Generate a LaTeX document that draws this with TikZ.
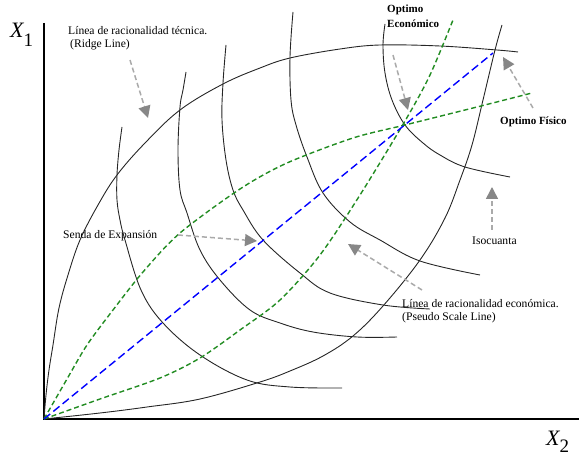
\documentclass[tikz,border=0pt]{standalone}
\usepackage{fontspec}
\setmainfont{Liberation Serif}
\usetikzlibrary{arrows.meta}
\definecolor{ggreen}{RGB}{34,140,34}
\definecolor{arrline}{RGB}{170,170,170}
\definecolor{arrhead}{RGB}{135,135,135}
\begin{document}
\begin{tikzpicture}[x=1pt,y=-1pt,
  curve/.style={line width=0.9pt, black!85},
  axis/.style={line width=2.4pt, black},
  gdash/.style={line width=1.4pt, ggreen, dash pattern=on 5pt off 3pt},
  bdash/.style={line width=1.4pt, blue, dash pattern=on 8pt off 4pt},
  garrow/.style={line width=1.5pt, arrline, dash pattern=on 5pt off 3pt,
    -{Triangle[length=12pt,width=12pt,color=arrhead]}},
  lbl/.style={font=\fontsize{11.6}{13}\selectfont, inner sep=0pt, align=left},
  blbl/.style={font=\fontsize{11}{15}\selectfont\bfseries, inner sep=0pt, align=left}
]
\useasboundingbox (0,0) rectangle (579,457);
% axes
\coordinate (O) at (44,419);
\coordinate (Ytop) at (44,23);
\coordinate (Xend) at (579,419);
\draw[axis] (Ytop) -- (O) -- (Xend);
\node[inner sep=0pt, anchor=base west] (X1) at (10,38)
  {{\fontsize{22}{22}\selectfont\itshape X}\raisebox{-9pt}{\fontsize{19}{19}\selectfont 1}};
\node[inner sep=0pt, anchor=base west] (X2) at (546,445)
  {{\fontsize{22}{22}\selectfont\itshape X}\raisebox{-8pt}{\fontsize{19}{19}\selectfont 2}};
% ridge lines
\draw[curve] plot[smooth, tension=0.6] coordinates {(44,419) (46,395) (49,370) (53,345) (59,308) (68,275) (80,240) (98,205) (117,175) (145,143) (180,110) (223,84) (260,68) (290,58) (340,49) (380,45) (440,46) (497,50) (518,52)};
\draw[curve] plot[smooth, tension=0.6] coordinates {(44,419) (100,413) (147,407) (200,399) (260,382) (290,371) (323,356) (353,336) (383,306) (420,260) (445,218) (460,180) (472,145) (483,100) (495,50) (502,25)};
% isoquants
\draw[curve] plot[smooth, tension=0.6] coordinates {(122,127) (119,150) (117,175) (117,200) (120,220) (125,240) (141,290) (163,323) (200,355) (247,380) (290,387) (342,388)};
\draw[curve] plot[smooth, tension=0.6] coordinates {(186,72) (183,90) (180,107) (178,150) (180,190) (187,213) (200,250) (220,280) (250,310) (280,323) (313,332) (357,337) (397,337)};
\draw[curve] plot[smooth, tension=0.6] coordinates {(226,45) (223,83) (222,120) (226,160) (233,190) (243,210) (263,240) (300,273) (330,293) (383,305) (430,309)};
\draw[curve] plot[smooth, tension=0.6] coordinates {(293,12) (290,57) (291,100) (296,125) (307,157) (323,193) (350,222) (380,240) (420,261) (480,275)};
\draw[curve] plot[smooth, tension=0.6] coordinates {(385,24) (383,45) (385,73) (392,100) (405,125) (423,143) (440,155) (465,167) (510,177)};
% pseudo scale lines (green)
\draw[gdash] plot[smooth, tension=0.5] coordinates {(44,419) (67,379) (87,345) (113,310) (143,272) (180,233) (240,189) (287,163) (353,138) (405,125) (473,108) (532,93)};
\draw[gdash] plot[smooth, tension=0.5] coordinates {(44,419) (100,399) (160,378) (200,358) (240,330) (280,300) (320,255) (360,195) (405,121) (430,75) (453,20)};
% expansion path (blue)
\coordinate (Bend) at (493,53);
\draw[bdash] (O) -- (Bend);
% labels
\node[lbl, anchor=north west] (ridge) at (68,26) {Línea de racionalidad técnica.\\\hspace{2pt}(Ridge Line)};
\node[blbl, anchor=north west] (opte) at (387,5) {Optimo\\Económico};
\node[blbl, anchor=base west] (optf) at (500,125) {Optimo Físico};
\node[lbl, anchor=base west] (senda) at (63,238.5) {Senda de Expansión};
\node[lbl, anchor=base west] (iso) at (472,245) {Isocuanta};
\node[lbl, anchor=north west] (pseudo) at (402,299.5) {Línea de racionalidad económica.\\(Pseudo Scale Line)};
% arrows
\coordinate (a1s) at (130,60);  \coordinate (a1e) at (148,118);
\coordinate (a2s) at (393,55);  \coordinate (a2e) at (408,110);
\coordinate (a3s) at (533,108); \coordinate (a3e) at (503,57);
\coordinate (a4s) at (492,230); \coordinate (a4e) at (492,187);
\coordinate (a5s) at (178,235); \coordinate (a5e) at (257,241);
\coordinate (a6s) at (422,290); \coordinate (a6e) at (348,244);
\draw[garrow] (a1s) -- (a1e);
\draw[garrow] (a2s) -- (a2e);
\draw[garrow] (a3s) -- (a3e);
\draw[garrow] (a4s) -- (a4e);
\draw[garrow] (a5s) -- (a5e);
\draw[garrow] (a6s) -- (a6e);
\end{tikzpicture}
\end{document}
